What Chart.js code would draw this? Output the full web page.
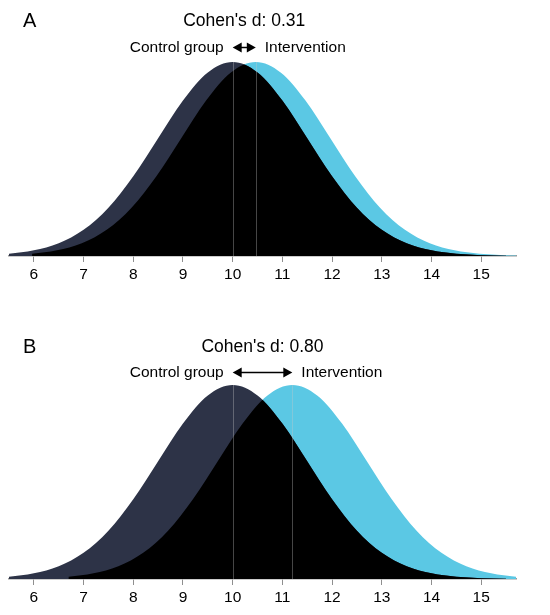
<!DOCTYPE html>
<html>
<head>
<meta charset="utf-8">
<script src="https://cdn.jsdelivr.net/npm/chart.js@4"></script>
<style>
  body { margin:0; background:#fff; overflow:hidden; width:550px; height:615px; position:relative; }
  canvas { position:absolute; left:0; }
  #plotA { top:0; }
  #plotB { top:323px; }
</style>
</head>
<body>
<canvas id="plotA" width="550" height="300"></canvas>
<canvas id="plotB" width="550" height="300"></canvas>
<script>
// x-axis ticks
let tickValues = [6, 7, 8, 9, 10, 11, 12, 13, 14, 15];
let tickLabels = ['6', '7', '8', '9', '10', '11', '12', '13', '14', '15'];

// panel labels, effect sizes, group means
let panelLabels = ['A', 'B'];
let effectSizes = ['0.31', '0.80'];
let meansA = [10, 10.465];
let meansB = [10, 11.2];

// control group curve (same in both panels), height relative to peak
let controlX = [5.5, 6, 6.5, 7, 7.5, 8, 8.5, 9, 9.5, 10, 10.5, 11, 11.5, 12, 12.5, 13, 13.5, 14, 14.5, 15, 15.5];
let controlY = [0.011, 0.029, 0.066, 0.135, 0.249, 0.411, 0.607, 0.801, 0.946, 1, 0.946, 0.801, 0.607, 0.411, 0.249, 0.135, 0.066, 0.029, 0.011, 0.004, 0.001];

// intervention curve, panel A
let interventionAX = [5.965, 6.465, 6.965, 7.465, 7.965, 8.465, 8.965, 9.465, 9.965, 10.465, 10.965, 11.465, 11.965, 12.465, 12.965, 13.465, 13.965, 14.465, 14.965, 15.465, 15.965];
let interventionAY = [0.011, 0.029, 0.066, 0.135, 0.249, 0.411, 0.607, 0.801, 0.946, 1, 0.946, 0.801, 0.607, 0.411, 0.249, 0.135, 0.066, 0.029, 0.011, 0.004, 0.001];

// intervention curve, panel B
let interventionBX = [6.7, 7.2, 7.7, 8.2, 8.7, 9.2, 9.7, 10.2, 10.7, 11.2, 11.7, 12.2, 12.7, 13.2, 13.7, 14.2, 14.7, 15.2, 15.7, 16.2, 16.7];
let interventionBY = [0.011, 0.029, 0.066, 0.135, 0.249, 0.411, 0.607, 0.801, 0.946, 1, 0.946, 0.801, 0.607, 0.411, 0.249, 0.135, 0.066, 0.029, 0.011, 0.004, 0.001];

const FONT = "'Liberation Sans', Arial, Helvetica, sans-serif";

function toPoints(xs, ys){
  return xs.map((x, i) => ({x: x, y: ys[i]}));
}

// closed area under a line element, down to the baseline
function areaPath(ctx, line, base){
  const pts = line.points;
  ctx.beginPath();
  line.path(ctx);
  ctx.lineTo(pts[pts.length - 1].x, base);
  ctx.lineTo(pts[0].x, base);
  ctx.closePath();
}

function arrowHead(ctx, x, y, dir){
  ctx.beginPath();
  ctx.moveTo(x, y);
  ctx.lineTo(x - dir * 9, y - 5);
  ctx.lineTo(x - dir * 9, y + 5);
  ctx.closePath();
  ctx.fill();
}

// black overlap, mean lines, arrow and texts
const decorPlugin = {
  id: 'decor',
  afterDatasetsDraw(chart){
    const ctx = chart.ctx, area = chart.chartArea;
    const xs = chart.scales.x, ys = chart.scales.y;
    const base = ys.getPixelForValue(0);
    const a = chart.getDatasetMeta(0).dataset;
    const b = chart.getDatasetMeta(1).dataset;
    ctx.save();
    ctx.beginPath();
    ctx.rect(area.left, area.top - 2, area.right - area.left, area.bottom - area.top + 2);
    ctx.clip();
    areaPath(ctx, a, base);
    ctx.clip();
    areaPath(ctx, b, base);
    ctx.fillStyle = '#000';
    ctx.fill();
    ctx.restore();

    const means = chart.options.plugins.decor.means;
    ctx.save();
    ctx.strokeStyle = 'rgba(200,200,200,0.35)';
    ctx.lineWidth = 1;
    means.forEach(m => {
      const px = Math.round(xs.getPixelForValue(m)) + 0.5;
      ctx.beginPath();
      ctx.moveTo(px, base);
      ctx.lineTo(px, ys.getPixelForValue(1));
      ctx.stroke();
    });
    ctx.restore();
  },
  afterDraw(chart){
    const ctx = chart.ctx;
    const o = chart.options.plugins.decor;
    const xs = chart.scales.x;
    const x1 = xs.getPixelForValue(o.means[0]);
    const x2 = xs.getPixelForValue(o.means[1]);
    ctx.save();
    ctx.fillStyle = '#000';
    ctx.textBaseline = 'middle';

    ctx.font = '20px ' + FONT;
    ctx.textAlign = 'left';
    ctx.fillText(o.label, 23, o.titleY);

    ctx.font = '17.5px ' + FONT;
    ctx.textAlign = 'center';
    ctx.fillText("Cohen's d: " + o.effect, (x1 + x2) / 2, o.titleY);

    ctx.font = '15.5px ' + FONT;
    ctx.textAlign = 'right';
    ctx.fillText('Control group', x1 - 9, o.subY);
    ctx.textAlign = 'left';
    ctx.fillText('Intervention', x2 + 9, o.subY);

    const ay = o.subY - 0.5;
    ctx.strokeStyle = '#000';
    ctx.lineWidth = 1.5;
    ctx.beginPath();
    ctx.moveTo(x1 + 6, ay);
    ctx.lineTo(x2 - 6, ay);
    ctx.stroke();
    arrowHead(ctx, x1, ay, -1);
    arrowHead(ctx, x2, ay, 1);
    ctx.restore();
  }
};

function makeChart(id, interventionPts, means, label, effect, titleY, subY){
  return new Chart(document.getElementById(id), {
    type: 'line',
    data: {
      datasets: [
        { label: 'Control group', data: toPoints(controlX, controlY), backgroundColor: '#2d3347',
          borderWidth: 0, pointRadius: 0, fill: 'origin', cubicInterpolationMode: 'monotone' },
        { label: 'Intervention', data: interventionPts, backgroundColor: '#5bc8e4',
          borderWidth: 0, pointRadius: 0, fill: 'origin', cubicInterpolationMode: 'monotone' }
      ]
    },
    options: {
      responsive: false,
      animation: false,
      events: [],
      layout: { padding: { left: 9, right: 34, top: 62, bottom: 0 } },
      plugins: {
        legend: { display: false },
        tooltip: { enabled: false },
        decor: { means: means, label: label, effect: effect, titleY: titleY, subY: subY }
      },
      scales: {
        x: {
          type: 'linear', min: 5.5, max: 15.7,
          afterBuildTicks: s => { s.ticks = tickValues.map(v => ({value: v})); },
          afterFit: s => { s.height = 44; },
          ticks: { callback: (v, i) => tickLabels[i], color: '#000', autoSkip: false, maxRotation: 0,
                   padding: 3, font: { size: 15.5, family: FONT } },
          grid: { drawOnChartArea: false, drawTicks: true, tickLength: 6, color: '#8f8f8f', lineWidth: 1 },
          border: { color: '#9a9a9a', width: 1.5 }
        },
        y: { display: false, min: 0, max: 1 }
      }
    },
    plugins: [decorPlugin]
  });
}

makeChart('plotA', toPoints(interventionAX, interventionAY), meansA, panelLabels[0], effectSizes[0], 21, 48);
makeChart('plotB', toPoints(interventionBX, interventionBY), meansB, panelLabels[1], effectSizes[1], 24.5, 50);
</script>
</body>
</html>
